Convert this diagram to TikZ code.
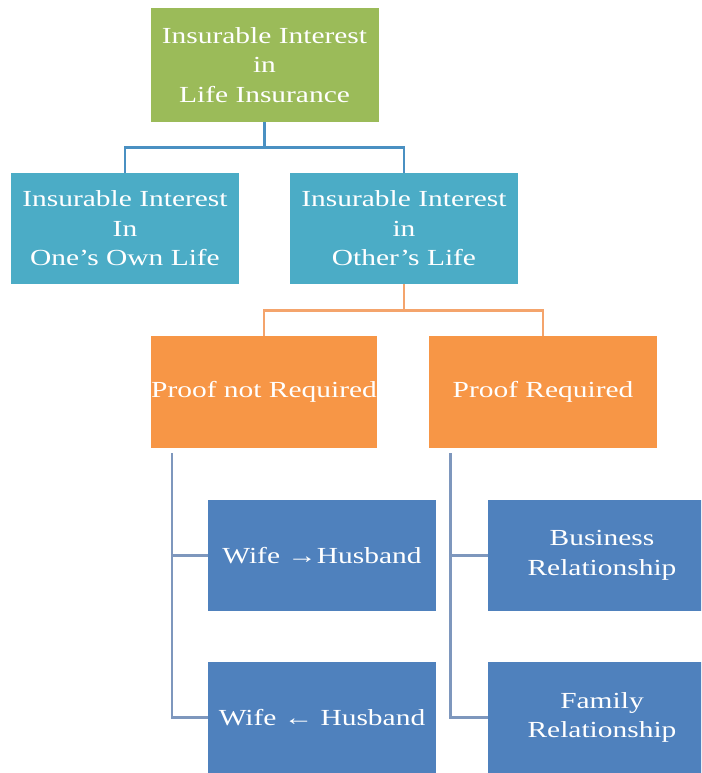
\documentclass[tikz,border=0pt]{standalone}
\usepackage{fontspec}
\setmainfont{Liberation Serif}[FakeStretch=1.28]
\definecolor{lgreen}{HTML}{9BBB59}
\definecolor{lteal}{HTML}{4BACC6}
\definecolor{lorange}{HTML}{F79646}
\definecolor{lblue}{HTML}{4F81BD}
\definecolor{ctop}{HTML}{4A90C2}
\definecolor{cmid}{HTML}{F4A46C}
\definecolor{clow}{HTML}{7E97BD}
\begin{document}
\begin{tikzpicture}[x=1pt,y=-1pt,
box/.style={minimum width=228pt,minimum height=111pt,inner sep=0pt,align=center,text=white,
  font=\fontsize{23}{29.5}\selectfont},
link/.style={line width=2.6pt}]
\clip(0,0) rectangle (701,773);
\node(top)[box,fill=lgreen,minimum height=114pt] at (264.5,65) {Insurable Interest\\in\\Life Insurance};
\node(own)[box,fill=lteal] at (125,228.5) {Insurable Interest\\In\\One's Own Life};
\node(other)[box,fill=lteal] at (404,228.5) {Insurable Interest\\in\\Other's Life};
\node(nreq)[box,fill=lorange,minimum width=226pt,minimum height=112pt] at (264,392) {Proof not Required};
\node(req)[box,fill=lorange,minimum height=112pt] at (543,392) {Proof Required};
\node(wh1)[box,fill=lblue] at (322,555.5) {Wife →Husband};
\node(wh2)[box,fill=lblue] at (322,717.5) {Wife ← Husband};
\node(bus)[box,fill=lblue] at (602,555.5) {Business\\Relationship};
\node(fam)[box,fill=lblue] at (602,717.5) {Family\\Relationship};
% top level
\draw[link,ctop](top.south)--++(0,25)coordinate(t1);
\draw[link,ctop](t1)-|(own.north) (t1)-|(other.north);
% second level
\draw[link,cmid](other.south)--++(0,26)coordinate(t2);
\draw[link,cmid](t2)-|(nreq.north) (t2)-|(req.north);
% lower branches
\coordinate(l1) at (172,453);
\coordinate(l2) at (450.5,453);
\draw[link,clow](l1)|-(wh1.west) (l1)|-(wh2.west);
\draw[link,clow](l2)|-(bus.west) (l2)|-(fam.west);
\end{tikzpicture}
\end{document}
